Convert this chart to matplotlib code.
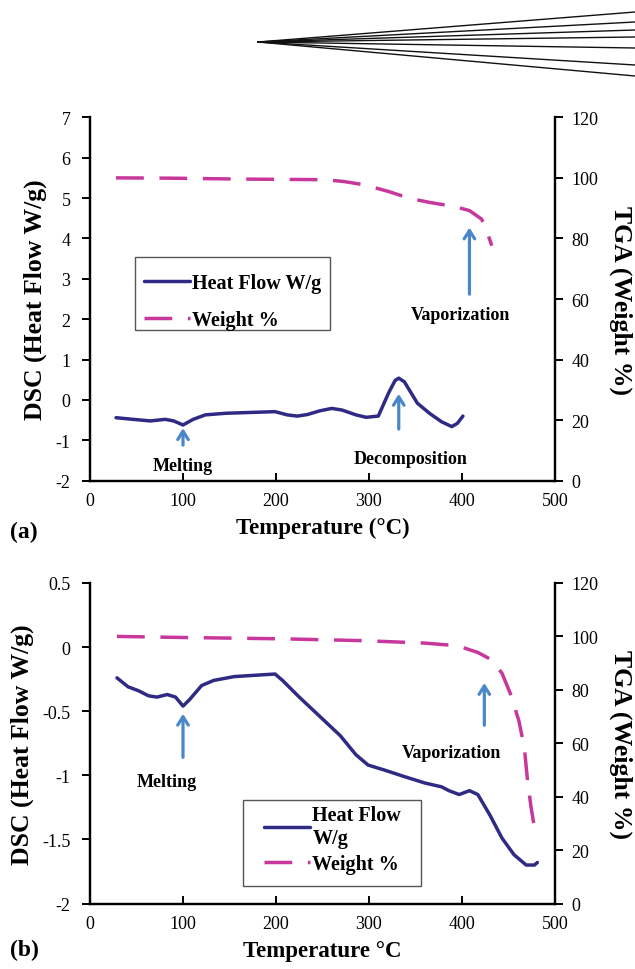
import matplotlib
matplotlib.use("Agg")
import matplotlib.pyplot as plt
from matplotlib.lines import Line2D
from matplotlib.patches import Rectangle

plt.rcParams['font.family'] = ['Liberation Serif', 'DejaVu Serif']

# ---------------- data ----------------
# panel (a)
a_hf_T = [28, 46, 65, 81, 90, 100, 111, 124, 146, 172, 199, 212, 223, 234, 247, 260, 271,
          286, 297, 310, 321, 328, 332, 338, 352, 365, 378, 389, 395, 401]
a_hf = [-0.44, -0.48, -0.52, -0.48, -0.52, -0.62, -0.48, -0.37, -0.33, -0.31, -0.29, -0.37,
        -0.40, -0.36, -0.27, -0.21, -0.25, -0.37, -0.43, -0.40, 0.17, 0.48, 0.54, 0.45, -0.08,
        -0.33, -0.54, -0.66, -0.58, -0.40]
a_wt_T = [28, 85, 164, 251, 273, 295, 321, 343, 365, 391, 408, 421, 426, 432]
a_wt = [100.0, 99.9, 99.6, 99.4, 98.8, 97.7, 95.5, 93.3, 91.9, 90.6, 89.2, 86.4, 83.1, 77.6]

# panel (b)
b_hf_T = [29, 41, 52, 63, 72, 83, 92, 100, 107, 120, 133, 155, 177, 199, 207, 225, 247,
          269, 286, 299, 317, 338, 360, 378, 386, 397, 408, 417, 430, 443, 456, 469, 478, 481]
b_hf = [-0.24, -0.31, -0.34, -0.38, -0.39, -0.37, -0.39, -0.46, -0.41, -0.30, -0.26, -0.23,
        -0.22, -0.21, -0.26, -0.39, -0.54, -0.69, -0.84, -0.92, -0.96, -1.01, -1.06, -1.09,
        -1.12, -1.15, -1.12, -1.15, -1.31, -1.49, -1.62, -1.70, -1.70, -1.68]
b_wt_T = [29, 100, 207, 295, 360, 395, 417, 432, 443, 452, 461, 467, 470, 474, 479]
b_wt = [100.0, 99.6, 99.1, 98.4, 97.5, 96.5, 94.0, 91.2, 86.2, 78.6, 68.6, 58.5, 47.6, 36.6, 26.0]

# annotations: (label, arrow x, arrow tail y, arrow head y, text x, text y)
a_notes = [("Melting", 100, -1.12, -0.70, 100, -1.62),
           ("Decomposition", 332, -0.72, 0.15, 345, -1.45),
           ("Vaporization", 408, 2.62, 4.27, 398, 2.12)]
b_notes = [("Melting", 100, -0.86, -0.52, 83, -1.05),
           ("Vaporization", 424, -0.61, -0.28, 389, -0.82)]

series_labels = ["Heat Flow W/g", "Weight %"]
series_labels_b = ["Heat Flow\nW/g", "Weight %"]

# decorative fan at the top (figure pixels): origin and right-edge end heights
fan_origin = (258, 43)
fan_ends_y = [13, 23, 31, 38, 49, 66, 77]

HF_COLOR = '#2f2b85'
WT_COLOR = '#c8379b'
ARROW_COLOR = '#4a87c9'

W, H = 635, 970
fig = plt.figure(figsize=(W / 100, H / 100), dpi=100)


def make_panel(rect, hf_T, hf, wt_T, wt, ylim, yticks, notes, labels, leg_anchor,
               leg_frame, leg_spacing, line_sp, xlabel, tag):
    ax = fig.add_axes(rect)
    ax2 = ax.twinx()
    l1, = ax.plot(hf_T, hf, color=HF_COLOR, lw=2.5, solid_capstyle='round',
                  solid_joinstyle='round')
    l2, = ax2.plot(wt_T, wt, color=WT_COLOR, lw=2.5, dashes=(8, 4.5))
    ax.set_xlim(0, 500)
    ax.set_ylim(*ylim)
    ax.set_yticks(yticks)
    ax.set_yticklabels([f"{t:g}" for t in yticks])
    ax.set_xticks(range(0, 501, 100))
    ax2.set_ylim(0, 120)
    ax2.set_yticks(range(0, 121, 20))
    for a in (ax, ax2):
        a.spines['top'].set_visible(False)
        for s in a.spines.values():
            s.set_linewidth(1.6)
    ax.tick_params(axis='y', direction='out', length=6, width=1.4, labelsize=13, pad=8)
    ax.tick_params(axis='x', direction='in', length=6, width=1.4, labelsize=13, pad=8)
    ax2.tick_params(axis='y', direction='out', length=6, width=1.4, labelsize=13, pad=6)
    ax.set_ylabel("DSC (Heat Flow W/g)", fontsize=18.5, fontweight='bold', labelpad=6)
    ax2.set_ylabel("TGA (Weight %)", fontsize=18.5, fontweight='bold', rotation=-90,
                   labelpad=24)
    ax.set_xlabel(xlabel, fontsize=16.5, fontweight='bold', labelpad=6)
    for (lab, xa, y0, y1, tx, ty) in notes:
        ax.annotate('', xy=(xa, y1), xytext=(xa, y0),
                    arrowprops=dict(arrowstyle='->,head_length=0.6,head_width=0.38',
                                    color=ARROW_COLOR, lw=2.3, shrinkA=0, shrinkB=0))
        ax.text(tx, ty, lab, ha='center', va='center', fontsize=13, fontweight='bold')
    # legend frame drawn separately so its size matches the reference
    fx0, fy0, fx1, fy1 = leg_frame
    ax2.add_patch(Rectangle((fx0, fy0), fx1 - fx0, fy1 - fy0, transform=ax2.transAxes,
                            facecolor='white', edgecolor='#555555', lw=1.0, zorder=4))
    leg = ax2.legend([l1, l2], labels, loc='upper left', bbox_to_anchor=leg_anchor,
                     frameon=False, prop={'weight': 'bold', 'size': 14.5},
                     handlelength=2.3, handletextpad=0.1, labelspacing=leg_spacing,
                     borderpad=0, borderaxespad=0)
    leg.set_zorder(5)
    for t in leg.get_texts():
        t.set_linespacing(line_sp)
    ax.set_zorder(ax2.get_zorder() + 1)
    ax.patch.set_visible(False)
    fig.text(10 / W, tag[1], tag[0], fontsize=17, fontweight='bold', va='center')
    return ax, ax2


left, width = 90 / W, 465 / W
rect_a = [left, 1 - 481.7 / H, width, 363.4 / H]
rect_b = [left, 1 - 904.5 / H, width, 320.5 / H]

make_panel(rect_a, a_hf_T, a_hf, a_wt_T, a_wt, (-2, 7), list(range(-2, 8)), a_notes,
           series_labels, (0.116, 0.571), (0.0968, 0.415, 0.516, 0.6156), 0.85, 1.1,
           "Temperature (°C)", ("(a)", 1 - 532 / H))
make_panel(rect_b, b_hf_T, b_hf, b_wt_T, b_wt, (-2, 0.5), [-2, -1.5, -1, -0.5, 0, 0.5],
           b_notes, series_labels_b, (0.374, 0.306), (0.329, 0.0555, 0.712, 0.324), 0.3, 1.2,
           "Temperature °C", ("(b)", 1 - 950 / H))

for ye in fan_ends_y:
    fig.add_artist(Line2D([fan_origin[0] / W, 1.0], [1 - fan_origin[1] / H, 1 - ye / H],
                          transform=fig.transFigure, color='#111111', lw=1.0))

fig.savefig("out.png", dpi=100)
